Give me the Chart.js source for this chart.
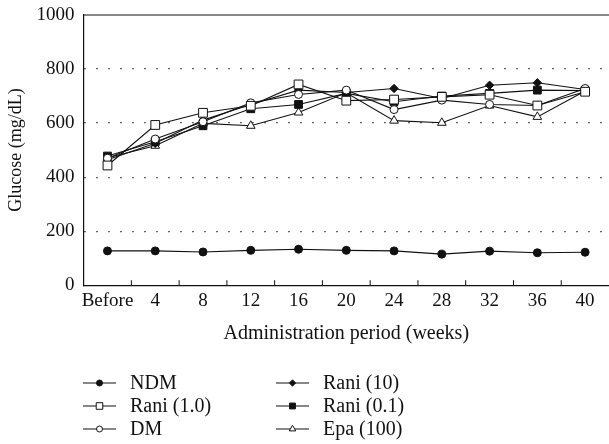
<!DOCTYPE html>
<html>
<head>
<meta charset="utf-8">
<script src="https://cdn.jsdelivr.net/npm/chart.js@4.4.0/dist/chart.umd.min.js"></script>
<style>
  body { margin: 0; background: #fff; }
  #wrap { width: 609px; height: 444px; }
</style>
</head>
<body>
<div id="wrap"><canvas id="myChart" width="609" height="444"></canvas></div>
<script>
  const weeks = ['Before', '4', '8', '12', '16', '20', '24', '28', '32', '36', '40'];
  const yTicks = [0, 200, 400, 600, 800, 1000];

  const ndm    = [127, 127, 123, 129, 133, 129, 127, 115, 126, 120, 122];
  const rani1  = [443, 593, 638, 664, 743, 683, 687, 697, 705, 665, 716];
  const dm     = [470, 541, 605, 675, 706, 722, 650, 685, 669, 665, 728];
  const rani10 = [464, 525, 611, 669, 722, 713, 728, 691, 740, 749, 724];
  const rani01 = [478, 531, 590, 653, 669, 710, 679, 700, 710, 722, 720];
  const epa    = [472, 516, 599, 590, 639, 712, 609, 601, 665, 623, 719];

  const serif = '"Liberation Serif", "DejaVu Serif", serif';

  function series(label, data, style, fill, r) {
    return {
      label: label,
      data: data,
      borderColor: '#111',
      borderWidth: 1.1,
      pointStyle: style,
      pointRadius: r,
      pointHoverRadius: r,
      pointBackgroundColor: fill,
      pointBorderColor: '#111',
      pointBorderWidth: 1,
      tension: 0,
      fill: false
    };
  }

  // top frame line and inward tick marks between the categories on the x axis
  const frame = {
    id: 'frame',
    afterDraw(chart) {
      const x = chart.scales.x, ctx = chart.ctx;
      const { left, right, top, bottom } = chart.chartArea;
      ctx.save();
      ctx.strokeStyle = '#111';
      ctx.lineWidth = 1.2;
      ctx.beginPath();
      ctx.moveTo(left, top);
      ctx.lineTo(right, top);
      ctx.stroke();
      ctx.lineWidth = 1;
      for (let i = 1; i < weeks.length; i++) {
        const px = (x.getPixelForValue(i - 1) + x.getPixelForValue(i)) / 2;
        ctx.beginPath();
        ctx.moveTo(px, bottom);
        ctx.lineTo(px, bottom - 5);
        ctx.stroke();
      }
      ctx.restore();
    }
  };

  // two-column legend under the axis title
  const colLegend = {
    id: 'colLegend',
    afterDraw(chart) {
      const ctx = chart.ctx;
      const cols = [83, 276];
      const rows = [383, 406, 429];
      chart.data.datasets.forEach((ds, i) => {
        const x = cols[Math.floor(i / 3)], y = rows[i % 3];
        ctx.save();
        ctx.strokeStyle = '#111';
        ctx.lineWidth = 1.1;
        ctx.beginPath();
        ctx.moveTo(x, y);
        ctx.lineTo(x + 33, y);
        ctx.stroke();
        ctx.fillStyle = ds.pointBackgroundColor;
        ctx.strokeStyle = '#111';
        ctx.lineWidth = 1;
        Chart.helpers.drawPoint(ctx, {
          pointStyle: ds.pointStyle,
          radius: ds.pointRadius * 0.75,
          borderWidth: 1,
          rotation: 0
        }, x + 16.5, y);
        ctx.fillStyle = '#111';
        ctx.font = '20px ' + serif;
        ctx.textBaseline = 'middle';
        ctx.textAlign = 'left';
        ctx.fillText(ds.label, x + 47, y + 1);
        ctx.restore();
      });
    }
  };

  const ctx = document.getElementById('myChart').getContext('2d');

  const myChart = new Chart(ctx, {
    type: 'line',
    data: {
      labels: weeks,
      datasets: [
        series('NDM', ndm, 'circle', '#111', 4),
        series('Rani (1.0)', rani1, 'rect', '#fff', 6.2),
        series('DM', dm, 'circle', '#fff', 4),
        series('Rani (10)', rani10, 'rectRot', '#111', 4.2),
        series('Rani (0.1)', rani01, 'rect', '#111', 5.5),
        series('Epa (100)', epa, 'triangle', '#fff', 5)
      ]
    },
    options: {
      responsive: false,
      animation: false,
      layout: { autoPadding: false, padding: { top: 15, right: 0, bottom: 98, left: 2 } },
      plugins: {
        legend: { display: false },
        tooltip: { enabled: false }
      },
      scales: {
        x: {
          offset: true,
          grid: { display: false, drawTicks: false },
          border: { display: true, color: '#111', width: 1.2 },
          ticks: { color: '#111', font: { family: serif, size: 19 }, padding: 4, maxRotation: 0, autoSkip: false },
          title: { display: true, text: 'Administration period (weeks)', color: '#111',
                   font: { family: serif, size: 20 }, padding: { top: 6, bottom: 0 } }
        },
        y: {
          min: 0,
          max: 1000,
          afterBuildTicks(axis) { axis.ticks = yTicks.map(v => ({ value: v })); },
          afterFit(axis) { axis.paddingTop = 0; axis.paddingBottom = 0; },
          grid: {
            drawTicks: false,
            lineWidth: 1.2,
            color: c => (c.tick && (c.tick.value === 0 || c.tick.value === 1000)) ? 'rgba(0,0,0,0)' : '#333'
          },
          border: { display: true, color: '#111', width: 1.2, dash: [1.5, 10.5] },
          ticks: { color: '#111', font: { family: serif, size: 19 }, padding: 9, callback: v => String(v) },
          title: { display: true, text: 'Glucose (mg/dL)', color: '#111',
                   font: { family: serif, size: 18 }, padding: { top: 3, bottom: 1 } }
        }
      }
    },
    plugins: [frame, colLegend]
  });
</script>
</body>
</html>
